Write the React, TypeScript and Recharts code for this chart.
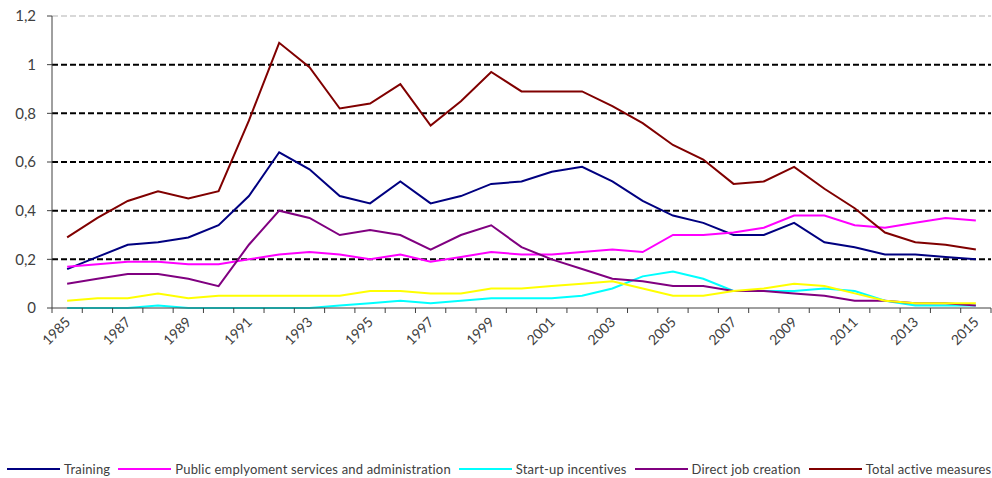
import React from 'react';
import { LineChart, Line, XAxis, YAxis, CartesianGrid, ReferenceLine, Legend } from 'recharts';

const years = [
  '1985','1986','1987','1988','1989','1990','1991','1992','1993','1994',
  '1995','1996','1997','1998','1999','2000','2001','2002','2003','2004',
  '2005','2006','2007','2008','2009','2010','2011','2012','2013','2014','2015',
];

const training = [0.16,0.21,0.26,0.27,0.29,0.34,0.46,0.64,0.57,0.46,0.43,0.52,0.43,0.46,0.51,0.52,0.56,0.58,0.52,0.44,0.38,0.35,0.30,0.30,0.35,0.27,0.25,0.22,0.22,0.21,0.20];
const pes = [0.17,0.18,0.19,0.19,0.18,0.18,0.20,0.22,0.23,0.22,0.20,0.22,0.19,0.21,0.23,0.22,0.22,0.23,0.24,0.23,0.30,0.30,0.31,0.33,0.38,0.38,0.34,0.33,0.35,0.37,0.36];
const startUp = [0.00,0.00,0.00,0.01,0.00,0.00,0.00,0.00,0.00,0.01,0.02,0.03,0.02,0.03,0.04,0.04,0.04,0.05,0.08,0.13,0.15,0.12,0.07,0.07,0.07,0.08,0.07,0.03,0.01,0.01,0.01];
const directJob = [0.10,0.12,0.14,0.14,0.12,0.09,0.26,0.40,0.37,0.30,0.32,0.30,0.24,0.30,0.34,0.25,0.20,0.16,0.12,0.11,0.09,0.09,0.07,0.07,0.06,0.05,0.03,0.03,0.02,0.02,0.01];
const totalActive = [0.29,0.37,0.44,0.48,0.45,0.48,0.77,1.09,0.99,0.82,0.84,0.92,0.75,0.85,0.97,0.89,0.89,0.89,0.83,0.76,0.67,0.61,0.51,0.52,0.58,0.49,0.41,0.31,0.27,0.26,0.24];
const other = [0.03,0.04,0.04,0.06,0.04,0.05,0.05,0.05,0.05,0.05,0.07,0.07,0.06,0.06,0.08,0.08,0.09,0.10,0.11,0.08,0.05,0.05,0.07,0.08,0.10,0.09,0.06,0.03,0.02,0.02,0.02];

const yTicks = [0, 0.2, 0.4, 0.6, 0.8, 1, 1.2];
const gridValues = [0.2, 0.4, 0.6, 0.8, 1];

const series = [
  { key: 'training', name: 'Training', color: '#000080', values: training, legend: true },
  { key: 'pes', name: 'Public emplyoment services and administration', color: '#FF00FF', values: pes, legend: true },
  { key: 'startUp', name: 'Start-up incentives', color: '#00FFFF', values: startUp, legend: true },
  { key: 'directJob', name: 'Direct job creation', color: '#800080', values: directJob, legend: true },
  { key: 'totalActive', name: 'Total active measures', color: '#800000', values: totalActive, legend: true },
  { key: 'other', name: 'Other', color: '#FFFF00', values: other, legend: false },
];

const data = years.map((y, i) => {
  const row: any = { year: y };
  series.forEach((s) => { row[s.key] = s.values[i]; });
  return row;
});

const FONT = 'Lato, "Open Sans", sans-serif';
const HALF = 939 / 31 / 2;

const XTick = (props: any) => {
  const { x, y, payload, index } = props;
  const yr = parseInt(payload.value, 10);
  return (
    <g>
      <line x1={x - HALF} x2={x - HALF} y1={y - 8} y2={y - 3} stroke="#404040" />
      {index === years.length - 1 && (
        <line x1={x + HALF} x2={x + HALF} y1={y - 8} y2={y - 3} stroke="#404040" />
      )}
      {(yr - 1985) % 2 === 0 && (
        <text
          x={x + 4}
          y={y + 7}
          textAnchor="end"
          fontSize={14}
          fill="#404040"
          fontFamily={FONT}
          transform={`rotate(-45, ${x + 4}, ${y + 7})`}
        >
          {payload.value}
        </text>
      )}
    </g>
  );
};

const fmt = (v: number) => String(v).replace('.', ',');

const LegendContent = () => (
  <div style={{ display: 'flex', alignItems: 'center', fontFamily: FONT, fontSize: 13, letterSpacing: 0.18, color: '#404040', paddingLeft: 7, paddingTop: 3, whiteSpace: 'nowrap' }}>
    {series.filter((s) => s.legend).map((s) => (
      <div key={s.key} style={{ display: 'flex', alignItems: 'center', marginRight: 8 }}>
        <svg width={53} height={6} style={{ marginRight: 4 }}>
          <line x1={0} x2={53} y1={3} y2={3} stroke={s.color} strokeWidth={2} />
        </svg>
        <span>{s.name}</span>
      </div>
    ))}
  </div>
);

export default function App() {
  return (
    <div style={{ position: 'absolute', left: 0, top: 0, width: 992, height: 478, background: '#fff' }}>
      <LineChart width={992} height={478} data={data} margin={{ top: 16, right: 1, left: 0, bottom: 0 }}>
        <CartesianGrid vertical={false} horizontalValues={gridValues} stroke="#000" strokeWidth={2} strokeDasharray="6 3" />
        <ReferenceLine y={1.2} stroke="#d8d8d8" strokeWidth={2} strokeDasharray="6 3" />
        <XAxis
          dataKey="year"
          interval={0}
          tickLine={false}
          tick={<XTick />}
          height={150}
          padding={{ left: HALF, right: HALF }}
          axisLine={{ stroke: '#404040' }}
        />
        <YAxis
          width={52}
          domain={[0, 1.2]}
          ticks={yTicks}
          tickFormatter={fmt}
          tickSize={5}
          tickMargin={11}
          axisLine={{ stroke: '#404040' }}
          tickLine={{ stroke: '#404040' }}
          tick={{ fontSize: 15, fill: '#404040', fontFamily: FONT }}
        />
        {series.map((s) => (
          <Line
            key={s.key}
            dataKey={s.key}
            name={s.name}
            stroke={s.color}
            strokeWidth={2}
            dot={false}
            activeDot={false}
            isAnimationActive={false}
          />
        ))}
        <Legend verticalAlign="bottom" content={<LegendContent />} wrapperStyle={{ height: 20 }} />
      </LineChart>
    </div>
  );
}
